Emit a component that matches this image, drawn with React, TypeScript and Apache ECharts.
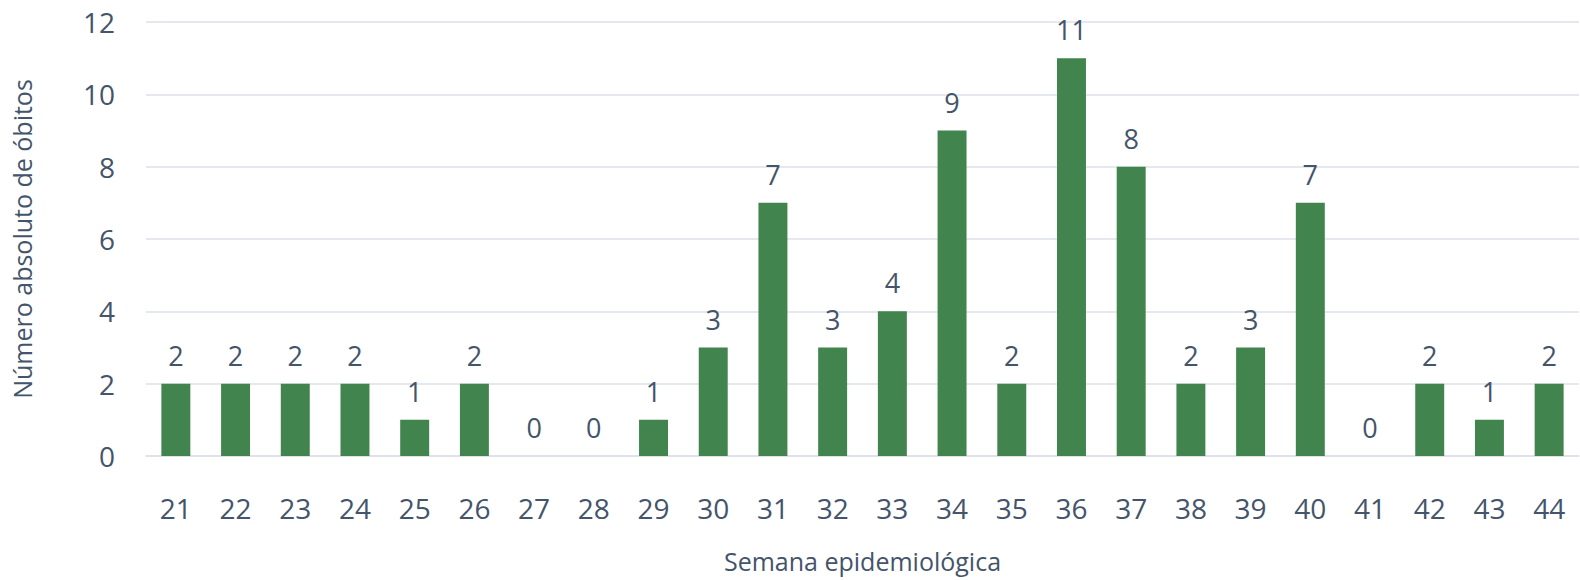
import React, { useEffect, useRef } from "react";
import * as echarts from "echarts";

const weeks = ["21","22","23","24","25","26","27","28","29","30","31","32","33","34","35","36","37","38","39","40","41","42","43","44"];
const deaths = [2,2,2,2,1,2,0,0,1,3,7,3,4,9,2,11,8,2,3,7,0,2,1,2];
const yTicks = { min: 0, max: 12, interval: 2 };
const xTitle = "Semana epidemiológica";
const yTitle = "Número absoluto de óbitos";

const TEXT = "#44546A";
const GRID = "#DCE1E8";
const BAR = "#41844E";
const FONT = "'Open Sans', 'Noto Sans', sans-serif";

export default function App() {
  const ref = useRef<HTMLDivElement>(null);
  useEffect(() => {
    if (!ref.current) return;
    const chart = echarts.init(ref.current, null, { renderer: "svg" });
    chart.setOption({
      animation: false,
      textStyle: { fontFamily: FONT },
      grid: { left: 146, right: 1, top: 22, bottom: 124, containLabel: false },
      xAxis: {
        type: "category",
        data: weeks,
        name: xTitle,
        nameLocation: "middle",
        nameGap: 92,
        nameTextStyle: { color: TEXT, fontSize: 25, fontFamily: FONT },
        axisLine: { show: true, lineStyle: { color: GRID, width: 1.5 } },
        axisTick: { show: false },
        axisLabel: { color: TEXT, fontSize: 28, margin: 38, fontFamily: FONT },
      },
      yAxis: {
        type: "value",
        min: yTicks.min,
        max: yTicks.max,
        interval: yTicks.interval,
        name: yTitle,
        nameLocation: "middle",
        nameGap: 112,
        nameTextStyle: { color: TEXT, fontSize: 25, fontFamily: FONT },
        axisLine: { show: false },
        axisTick: { show: false },
        axisLabel: { color: TEXT, fontSize: 28, margin: 31, fontFamily: FONT },
        splitLine: { lineStyle: { color: GRID, width: 1.5 } },
      },
      series: [
        {
          type: "bar",
          data: deaths,
          barWidth: "48.5%",
          itemStyle: { color: BAR },
          label: {
            show: true,
            position: "top",
            distance: 15,
            color: TEXT,
            fontSize: 27,
            fontFamily: FONT,
          },
        },
      ],
    });
    return () => chart.dispose();
  }, []);
  return (
    <div
      ref={ref}
      style={{ position: "fixed", left: 0, top: 0, width: 1580, height: 580, background: "#fff" }}
    />
  );
}
